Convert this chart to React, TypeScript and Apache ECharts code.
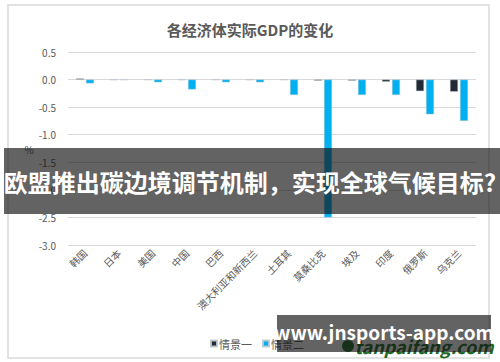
import React, { useEffect, useRef } from "react";
import * as echarts from "echarts";

const categories = ["韩国", "日本", "美国", "中国", "巴西", "澳大利亚和新西兰", "土耳其", "莫桑比克", "埃及", "印度", "俄罗斯", "乌克兰"];
const scenario1 = [0.02, -0.01, -0.01, -0.01, -0.01, -0.01, -0.01, -0.02, -0.02, -0.04, -0.21, -0.22];
const scenario2 = [-0.07, -0.01, -0.05, -0.18, -0.05, -0.05, -0.28, -2.5, -0.28, -0.28, -0.63, -0.75];
const seriesNames = ["情景一", "情景二"];
const title = "各经济体实际GDP的变化";
const yUnit = "%";
const bannerText = "欧盟推出碳边境调节机制，实现全球气候目标?";
const watermarkText = "www.jnsports-app.com";
const watermark2 = "tanpaifang.com";

const FONT = "'Noto Sans CJK SC', 'Noto Sans', sans-serif";
const GREY = "#595959";

export default function App() {
  const ref = useRef<HTMLDivElement>(null);
  useEffect(() => {
    if (!ref.current) return;
    const chart = echarts.init(ref.current, null, { renderer: "svg" });
    chart.setOption({
      animation: false,
      backgroundColor: "#ffffff",
      textStyle: { fontFamily: FONT },
      title: {
        text: title,
        left: "center",
        top: 17,
        textStyle: { fontSize: 15, fontWeight: "bold", color: GREY, fontFamily: FONT },
      },
      legend: {
        data: seriesNames,
        left: 205,
        top: 333,
        icon: "rect",
        itemWidth: 6,
        itemHeight: 6,
        itemGap: 10,
        textStyle: { fontSize: 11, color: GREY, fontFamily: FONT, padding: [0, 0, 0, -3] },
      },
      grid: { left: 68, right: 24, top: 52, bottom: 117, containLabel: false },
      xAxis: {
        type: "category",
        data: categories,
        axisLine: { show: false, onZero: false },
        axisTick: { show: false },
        axisLabel: { rotate: 45, fontSize: 10, color: GREY, margin: 6, interval: 0, fontFamily: FONT },
      },
      yAxis: {
        type: "value",
        min: -3,
        max: 0.5,
        interval: 0.5,
        axisLine: { show: false },
        axisTick: { show: false },
        splitLine: { lineStyle: { color: "#D9D9D9", width: 1 } },
        axisLabel: {
          fontSize: 10,
          color: GREY,
          margin: 12,
          fontFamily: FONT,
          formatter: (v: number) => v.toFixed(1),
        },
      },
      series: [
        {
          name: seriesNames[0],
          type: "bar",
          data: scenario1,
          barWidth: 8,
          barGap: "25%",
          itemStyle: { color: "#222A35", borderColor: "rgba(190,200,210,0.9)", borderWidth: 0.5 },
        },
        {
          name: seriesNames[1],
          type: "bar",
          data: scenario2,
          barWidth: 8,
          barGap: "25%",
          itemStyle: { color: "#00B0F0", borderColor: "rgba(190,200,210,0.9)", borderWidth: 0.5 },
        },
      ],
      graphic: [
        {
          type: "rect",
          shape: { x: 8, y: 5, width: 481, height: 353 },
          style: { fill: "none", stroke: "#D9D9D9", lineWidth: 1.5 },
          z: 1,
          silent: true,
        },
        {
          type: "text",
          x: 29,
          y: 149,
          style: { text: yUnit, fill: GREY, align: "center", verticalAlign: "middle", font: `10px ${FONT}` },
          z: 5,
        },
        {
          type: "rect",
          shape: { x: 4, y: 148, width: 496, height: 66 },
          style: { fill: "rgba(18,18,18,0.66)" },
          z: 100,
        },
        {
          type: "text",
          x: 250,
          y: 181,
          style: {
            text: bannerText,
            fill: "#ffffff",
            align: "center",
            verticalAlign: "middle",
            font: `bold 24px ${FONT}`,
          },
          z: 101,
        },
        {
          type: "circle",
          shape: { cx: 348, cy: 346, r: 6 },
          style: { fill: "#1f6a28" },
          z: 90,
        },
        {
          type: "text",
          x: 424,
          y: 346,
          style: {
            text: watermark2,
            fill: "#1f6a28",
            align: "center",
            verticalAlign: "middle",
            font: `italic bold 18px ${FONT}`,
          },
          z: 90,
        },
        {
          type: "rect",
          shape: { x: 277, y: 315, width: 214, height: 37 },
          style: { fill: "rgba(18,18,18,0.66)" },
          z: 100,
        },
        {
          type: "text",
          x: 384,
          y: 331,
          style: {
            text: watermarkText,
            fill: "#ffffff",
            align: "center",
            verticalAlign: "middle",
            font: `bold 19px ${FONT}`,
          },
          z: 101,
        },
      ],
    });
    return () => chart.dispose();
  }, []);
  return <div ref={ref} style={{ position: "fixed", left: 0, top: 0, width: 500, height: 362 }} />;
}
